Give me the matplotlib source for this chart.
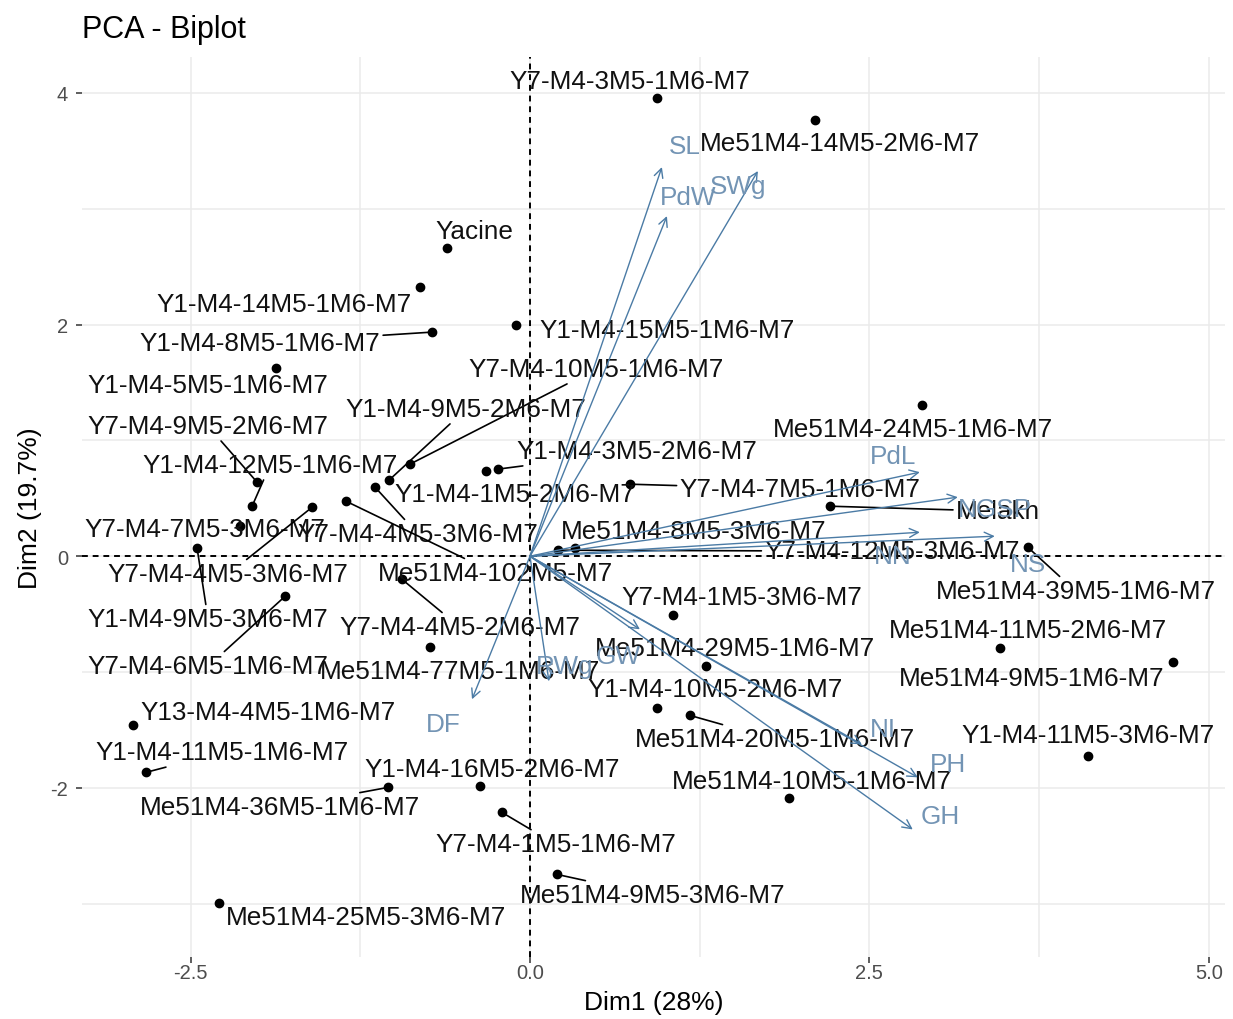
import matplotlib.pyplot as plt
import numpy as np

plt.rcParams['font.family'] = ['Liberation Sans', 'DejaVu Sans']
plt.rcParams['axes.unicode_minus'] = False

# individuals: coordinates on Dim1 / Dim2
ind_names = [
    "Y7-M4-3M5-1M6-M7", "Me51M4-14M5-2M6-M7", "Yacine", "Y1-M4-14M5-1M6-M7",
    "Y1-M4-8M5-1M6-M7", "Y1-M4-15M5-1M6-M7", "Y1-M4-5M5-1M6-M7", "Y7-M4-10M5-1M6-M7",
    "Y1-M4-9M5-2M6-M7", "Y7-M4-9M5-2M6-M7", "Y1-M4-12M5-1M6-M7", "Y7-M4-7M5-3M6-M7",
    "Y7-M4-4M5-3M6-M7", "Y7-M4-4M5-3M6-M7", "Me51M4-102M5-M7", "Y1-M4-9M5-3M6-M7",
    "Y7-M4-6M5-1M6-M7", "Y1-M4-3M5-2M6-M7", "Y1-M4-1M5-2M6-M7", "Y7-M4-7M5-1M6-M7",
    "Me51M4-24M5-1M6-M7", "Melakh", "Me51M4-8M5-3M6-M7", "Y7-M4-12M5-3M6-M7",
    "Me51M4-39M5-1M6-M7", "Me51M4-11M5-2M6-M7", "Me51M4-9M5-1M6-M7", "Y1-M4-11M5-3M6-M7",
    "Y7-M4-1M5-3M6-M7", "Me51M4-29M5-1M6-M7", "Y1-M4-10M5-2M6-M7", "Me51M4-20M5-1M6-M7",
    "Me51M4-10M5-1M6-M7", "Y7-M4-4M5-2M6-M7", "Me51M4-77M5-1M6-M7", "Y13-M4-4M5-1M6-M7",
    "Y1-M4-11M5-1M6-M7", "Me51M4-36M5-1M6-M7", "Y1-M4-16M5-2M6-M7", "Y7-M4-1M5-1M6-M7",
    "Me51M4-9M5-3M6-M7", "Me51M4-25M5-3M6-M7",
]
dim1 = [0.935, 2.099, -0.611, -0.810, -0.722, -0.103, -1.870, -0.884,
        -1.038, -2.010, -2.047, -2.135, -1.605, -1.141, -1.355, -2.452,
        -1.804, -0.236, -0.324, 0.736, 2.887, 2.209, 0.331, 0.206,
        3.667, 3.461, 4.735, 4.109, 1.053, 1.296, 0.935, 1.178,
        1.907, -0.943, -0.736, -2.923, -2.828, -1.046, -0.368, -0.206,
        0.199, -2.290]
dim2 = [3.957, 3.767, 2.661, 2.324, 1.935, 1.996, 1.624, 0.795,
        0.657, 0.639, 0.432, 0.259, 0.423, 0.596, 0.475, 0.069,
        -0.346, 0.752, 0.734, 0.622, 1.305, 0.432, 0.069, 0.052,
        0.078, -0.795, -0.916, -1.728, -0.510, -0.950, -1.313, -1.374,
        -2.091, -0.199, -0.786, -1.460, -1.866, -1.996, -1.987, -2.212,
        -2.747, -2.998]

# variables: arrow tips
var_names = ["SL", "PdW", "SWg", "PdL", "NGSP", "NN", "NS",
             "NI", "PH", "GH", "GW", "RWg", "DF"]
var_x = [0.972, 1.009, 1.679, 2.872, 3.152, 2.872, 3.424,
         2.445, 2.857, 2.820, 0.810, 0.140, -0.427]
var_y = [3.360, 2.937, 3.326, 0.726, 0.510, 0.207, 0.173,
         -1.624, -1.909, -2.359, -0.631, -1.080, -1.235]

# label placement (pixel offsets, as the repelled labels sit) and leader lines
ind_off = [(-27, 17), (25, -23), (27, 17), (-136, -17), (-172, -11), (151, -5),
           (-68, -17), (186, 95), (77, 71), (-49, 56), (18, 41), (-35, -3),
           (-84, -67), (43, -47), (149, -72), (11, -71), (-77, -70), (139, 18),
           (29, -23), (170, -5), (-9, -24), (168, -5), (119, 17), (334, -1),
           (48, -44), (28, 18), (-141, -16), (0, 21), (69, 18), (29, 18),
           (58, 19), (85, -24), (23, 17), (58, -48), (30, -24), (135, 13),
           (76, 20), (-108, -20), (12, 17), (54, -32), (96, -21), (147, -14)]
ind_seg = [0, 0, 0, 0, 1, 0, 0, 1, 1, 1, 1, 0, 1, 1, 1, 1, 1, 1, 0, 1, 0,
           1, 0, 1, 1, 0, 0, 0, 0, 0, 0, 1, 0, 1, 0, 0, 1, 1, 0, 1, 1, 0]
var_off = [(23, 21), (21, 19), (-20, -15), (-27, 16), (37, -12), (-27, -24),
           (33, -28), (21, 15), (30, 13), (27, 13), (-22, -27), (16, 15), (-29, -25)]

arrow_col = '#4B7BA5'
vtext_col = '#7394B4'

fig = plt.figure(figsize=(12.33, 10.2), dpi=100)
ax = fig.add_axes([0.0665, 0.0608, 0.927, 0.8823])

ax.set_xlim(-3.30, 5.12)
ax.set_ylim(-3.46, 4.31)
ax.set_xticks([-2.5, 0.0, 2.5, 5.0])
ax.set_xticklabels(['-2.5', '0.0', '2.5', '5.0'])
ax.set_yticks([-2, 0, 2, 4])
ax.set_xticks([-1.25, 1.25, 3.75], minor=True)
ax.set_yticks([-3, -1, 1, 3], minor=True)
ax.grid(True, which='both', color='#EBEBEB', lw=1.1)
ax.set_axisbelow(True)
for s in ax.spines.values():
    s.set_visible(False)
ax.tick_params(which='major', length=4, width=1.1, color='#333333',
               labelsize=14.5, labelcolor='#4D4D4D')
ax.tick_params(axis='x', which='major', pad=0)
ax.tick_params(axis='y', which='major', pad=6)
ax.tick_params(which='minor', length=0)

ax.axhline(0, color='black', lw=1.4, ls=(0, (3, 2.5)), zorder=1)
ax.axvline(0, color='black', lw=1.4, ls=(0, (3, 2.5)), zorder=1)

# individuals
ax.scatter(dim1, dim2, s=36, color='black', zorder=3)
for i, name in enumerate(ind_names):
    props = None
    if ind_seg[i]:
        props = dict(arrowstyle='-', color='black', lw=1.2, shrinkA=0, shrinkB=0)
    ax.annotate(name, (dim1[i], dim2[i]), xytext=ind_off[i], textcoords='offset pixels',
                ha='center', va='center', fontsize=18.8, color='#111111',
                arrowprops=props, zorder=4)

# variables
for i, name in enumerate(var_names):
    ax.annotate('', xy=(var_x[i], var_y[i]), xytext=(0, 0),
                arrowprops=dict(arrowstyle='->', color=arrow_col, lw=1.0,
                                mutation_scale=16, shrinkA=0, shrinkB=0), zorder=5)
    ax.annotate(name, (var_x[i], var_y[i]), xytext=var_off[i], textcoords='offset pixels',
                ha='center', va='center', fontsize=18.8, color=vtext_col, zorder=6)

ax.set_xlabel('Dim1 (28%)', fontsize=19, labelpad=6)
ax.set_ylabel('Dim2 (19.7%)', fontsize=19, labelpad=6)
fig.text(0.0665, 1 - 30 / 1020, 'PCA - Biplot', fontsize=22, ha='left', va='center')

fig.savefig('out.png', dpi=100, facecolor='white')
